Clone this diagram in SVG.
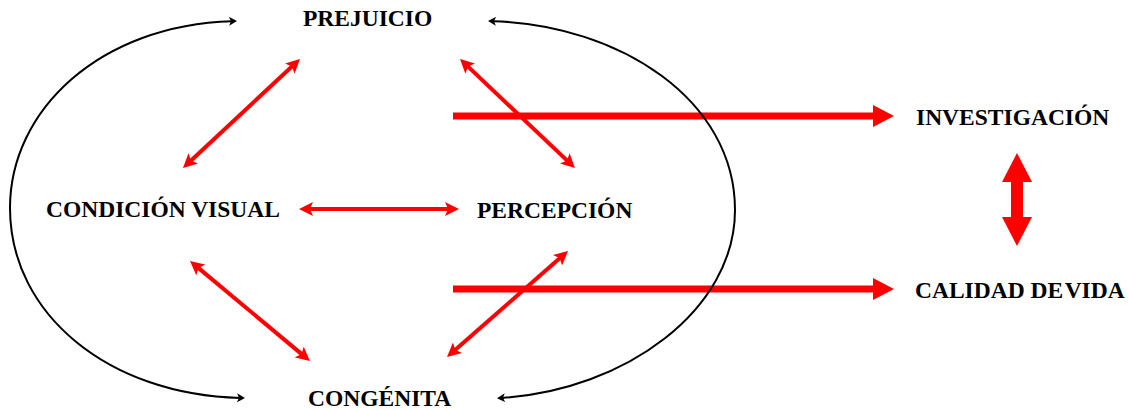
<svg xmlns="http://www.w3.org/2000/svg" width="1128" height="410" viewBox="0 0 1128 410">
  <style>
    .lbl { font-family: "Liberation Serif", "Times New Roman", serif; font-weight: bold; font-size: 23.5px; fill: #000; }
    .thin { stroke: #FF0000; stroke-width: 4; fill: none; marker-start: url(#redHead); marker-end: url(#redHead); }
    .thick { fill: #FF0000; stroke: none; }
    .arc { stroke: #000; stroke-width: 2; fill: none; marker-start: url(#blackHead); marker-end: url(#blackHead); }
  </style>
  <defs>
    <marker id="redHead" markerUnits="userSpaceOnUse" markerWidth="14" markerHeight="14" viewBox="0 0 14 14" refX="4" refY="7" orient="auto-start-reverse">
      <path d="M0,0 L14,7 L0,14 L3,7 z" fill="#FF0000"/>
    </marker>
    <marker id="blackHead" markerUnits="userSpaceOnUse" markerWidth="9" markerHeight="9" viewBox="0 0 9 9" refX="3" refY="4.5" orient="auto-start-reverse">
      <path d="M0,0 L8,4.5 L0,9 L2,4.5 z" fill="#000"/>
    </marker>
  </defs>
  <rect width="1128" height="410" fill="#fff"/>

  <g id="connectors">
    <path class="thick" d="M453 112.5 H873 V105 L894 116 L873 127 V119.5 H453 z"/>
    <path class="thick" d="M453 285.5 H873 V278 L894 289 L873 300 V292.5 H453 z"/>
    <path class="thick" d="M1017 153 L1032 182 H1023 V217 H1032 L1017 246 L1002 217 H1011 V182 H1002 z"/>
    <line class="thin" x1="292.7" y1="65.8" x2="190.3" y2="161.2"/>
    <line class="thin" x1="467.3" y1="65.9" x2="567.7" y2="161.1"/>
    <line class="thin" x1="309" y1="209" x2="449" y2="209"/>
    <line class="thin" x1="197.7" y1="267.4" x2="302.3" y2="354.6"/>
    <line class="thin" x1="560.5" y1="257.6" x2="454.5" y2="350.4"/>
    <path class="arc" d="M232 21.2 C100 25, 10 110, 10 208 C10 315, 110 395, 240 397.9"/>
    <path class="arc" d="M493 21.2 C620 25, 735 100, 735 210 C735 310, 625 390, 502 397.9"/>
  </g>

  <g id="prejuicio"><text class="lbl" x="303" y="26">PREJUICIO</text></g>
  <g id="condicion-visual"><text class="lbl" x="46" y="217">CONDICIÓN VISUAL</text></g>
  <g id="percepcion"><text class="lbl" x="477" y="218">PERCEPCIÓN</text></g>
  <g id="congenita"><text class="lbl" x="308" y="406">CONGÉNITA</text></g>
  <g id="investigacion"><text class="lbl" x="916" y="125">INVESTIGACIÓN</text></g>
  <g id="calidad-de-vida"><text class="lbl" x="915" y="298">CALIDAD DE<tspan word-spacing="-4"> VIDA</tspan></text></g>
</svg>
